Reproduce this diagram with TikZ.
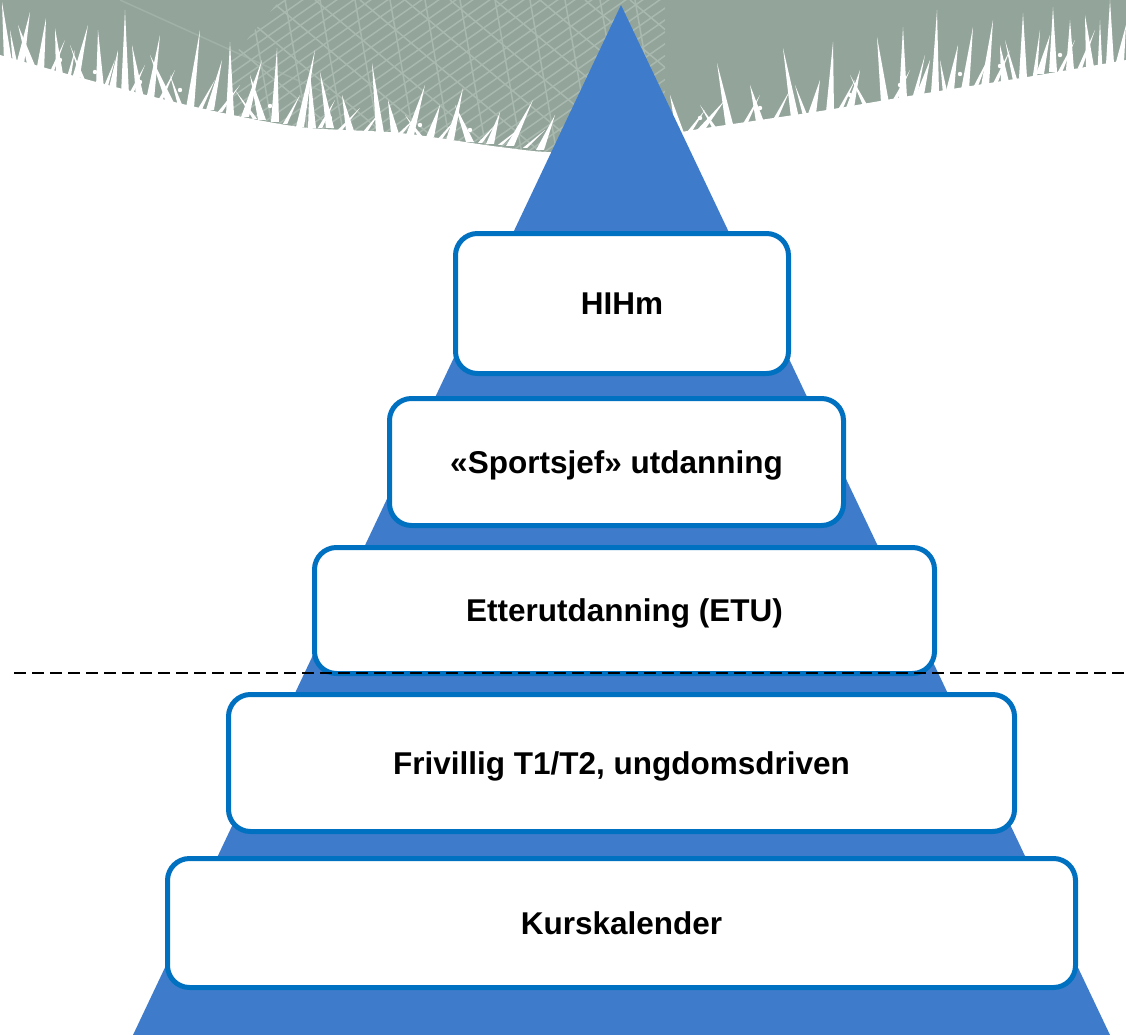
\documentclass[tikz,border=0pt]{standalone}
\usepackage{fontspec}
\setmainfont{Liberation Sans}
\definecolor{grassbg}{HTML}{93A59B}
\definecolor{netc}{HTML}{A9B9AF}
\definecolor{trifill}{HTML}{3E7CCB}
\definecolor{boxblue}{HTML}{0070C0}
\tikzset{
  lvl/.style={draw=boxblue, line width=5pt, fill=white, rounded corners=22pt,
    inner sep=0pt, text height=22pt, text depth=0pt,
    font=\fontsize{31.5}{36}\selectfont\bfseries},
  netline/.style={draw=netc, line width=1.5pt},
  sepline/.style={draw=black, line width=2.8pt, dash pattern=on 12pt off 6pt}
}
\begin{document}
\begin{tikzpicture}[x=1pt,y=-1pt]
\useasboundingbox (0,0) rectangle (1126,1035);
\fill[white] (0,0) rectangle (1126,1035);
% background field
\fill[grassbg] (0,0) rectangle (1126,175);
% net
\begin{scope}
\clip (280,0) -- (665,0) -- (665,160) -- (230,160) -- (230,60) -- cycle;
\foreach \c in {40,57,...,680} \draw[netline] (\c,160) -- ++(230,-161);
\foreach \c in {250,285,...,690} \draw[netline] (\c,0) -- ++(28,160);
\foreach \c in {180,225,...,640} \draw[netline] (\c,0) -- ++(190,160);
\end{scope}
\draw[netline, draw opacity=0.6] (120,0) -- (330,95);
% grass silhouette
\fill[white] plot[smooth] coordinates {(0,55) (100,83) (200,108) (300,127) (400,133) (500,147) (560,152) (640,140) (693,130) (760,120) (827,110) (927,93) (1027,77) (1126,60)} -- (1126,200) -- (0,200) -- cycle;
\foreach \bx/\by/\tx/\ty in {
  8/62/2/2, 20/65/30/12, 32/68/18/25, 40/72/46/18, 60/80/55/28, 75/82/88/25,
  100/88/98/30, 112/92/118/50, 125/95/125/10, 140/98/132/45, 150/100/160/35,
  170/103/150/55, 190/108/200/30, 210/110/222/60, 230/115/230/42, 245/117/262/60,
  262/120/250/75, 275/122/277/48, 300/127/315/50, 312/128/310/73, 330/128/320/72,
  350/131/342/95, 380/133/372/63, 395/134/388/100, 410/135/425/85, 430/137/440/105,
  450/140/463/88, 470/142/455/105, 490/144/500/112, 510/146/533/100, 540/150/555/115,
  580/150/575/110, 600/150/612/118,
  640/140/650/110, 680/133/670/95, 700/131/725/100, 730/128/717/63, 760/122/750/85,
  795/118/783/48, 812/114/820/80, 830/112/833/42, 850/108/860/70, 885/103/877/37,
  903/98/903/27, 920/95/930/60, 935/93/937/10, 950/91/958/45, 965/90/973/27,
  985/86/993/20, 1005/82/1000/45, 1023/78/1023/13, 1040/74/1050/35, 1053/72/1053/7,
  1070/70/1070/20, 1090/67/1085/15, 1110/64/1110/0, 1120/62/1126/25}
  \fill[white] (\bx-4,\by) -- (\tx,\ty) -- (\bx+4,\by) -- cycle;
\foreach \bx/\by/\tx/\ty in {
  15/63/10/30, 50/76/65/40, 68/81/75/50, 85/85/70/45, 105/89/115/60, 130/96/145/65,
  160/101/175/70, 180/105/170/75, 200/109/215/80, 220/112/240/85, 255/119/235/90,
  285/124/300/95, 320/128/335/100, 340/130/360/108, 365/132/380/112, 400/134/415/118,
  420/136/405/115, 440/139/455/120, 480/143/495/125, 500/145/520/128, 525/148/545/130,
  555/151/570/135,
  650/138/640/118, 690/131/705/110, 715/129/700/105, 745/124/760/95, 775/120/790/90,
  805/115/795/85, 840/110/855/80, 865/105/850/75, 895/100/910/70, 915/96/925/55,
  945/92/940/60, 975/88/990/55, 995/84/1010/50, 1015/80/1005/40, 1035/76/1040/30,
  1060/72/1075/40, 1080/68/1095/30, 1100/65/1100/20}
  \fill[white] (\bx-2.2,\by) -- (\tx,\ty) -- (\bx+2.2,\by) -- cycle;
\foreach \px/\py in {60/60, 95/72, 140/82, 180/90, 230/98, 270/106, 330/118, 420/125,
  470/130, 700/118, 760/108, 850/95, 900/85, 960/74, 1000/66, 1060/55}
  \fill[white] (\px,\py) circle (2.2pt);
% pyramid
\fill[trifill] (621,5) -- (1110,1035) -- (133,1035) -- cycle;
% levels
\node[lvl, minimum width=333pt, minimum height=140pt] (hihm) at (622,303.5) {HIHm};
\node[lvl, minimum width=454pt, minimum height=127pt] (sport) at (616.5,462) {«Sportsjef» utdanning};
\node[lvl, minimum width=620pt, minimum height=126pt] (etu) at (624.5,610.5) {Etterutdanning (ETU)};
\node[lvl, minimum width=786pt, minimum height=137pt] (friv) at (621.5,763) {Frivillig T1/T2, ungdomsdriven};
\node[lvl, minimum width=908pt, minimum height=129pt] (kurs) at (621.5,923) {Kurskalender};
% separator
\coordinate (sepl) at (14,673);
\coordinate (sepr) at (1126,673);
\draw[sepline] (sepl) -- (sepr);
\end{tikzpicture}
\end{document}
